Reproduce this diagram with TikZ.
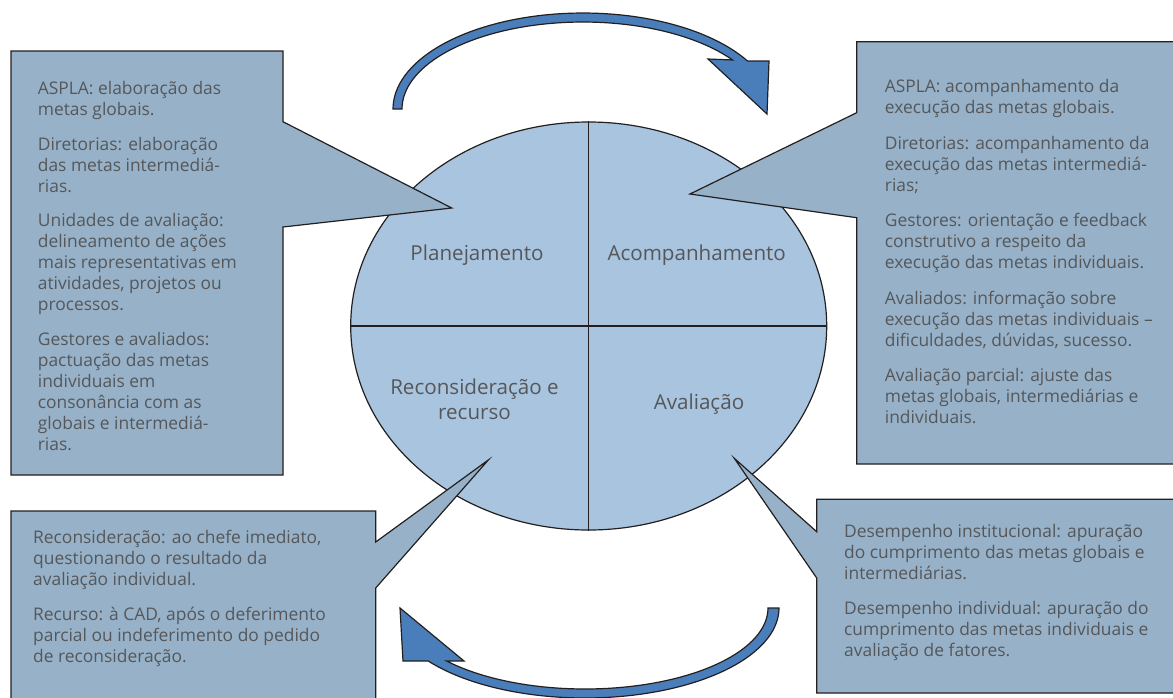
\documentclass[tikz,border=0pt]{standalone}
\usepackage{fontspec}
\setmainfont{Open Sans}
\usetikzlibrary{shapes.geometric,calc,positioning}
\definecolor{cyclefill}{RGB}{169,196,222}
\definecolor{calloutfill}{RGB}{151,178,200}
\definecolor{arrowfill}{RGB}{74,126,187}
\definecolor{linegray}{RGB}{35,31,32}
\definecolor{textgray}{RGB}{85,87,90}

\begin{document}
\begin{tikzpicture}[x=1pt,y=-1pt]

\tikzstyle{phase} = [font=\fontsize{20.6}{25}\selectfont, text=textgray, align=center]
\tikzstyle{box} = [inner sep=0, outer sep=0, anchor=north west]
\tikzstyle{callout} = [draw=linegray, fill=calloutfill, line width=1.2pt]
\tikzstyle{info} = [font=\fontsize{17.4}{21}\selectfont, text=textgray, align=left, inner sep=0]
\tikzstyle{turn} = [draw=linegray, fill=arrowfill, line width=1.2pt]

\useasboundingbox (0,0) rectangle (1173,697);
\clip (0,0) rectangle (1173,697);

% =========================
% placeholders for the four boxes
% =========================
\node[box, minimum width=272pt, minimum height=424pt] (planBox) at (11,51) {};
\node[box, minimum width=330pt, minimum height=422.3pt] (acompBox) at (856.7,41.7) {};
\node[box, minimum width=364.7pt, minimum height=200pt] (reconBox) at (11,511) {};
\node[box, minimum width=370pt, minimum height=193.7pt] (avalBox) at (816.7,499.3) {};

\coordinate (planTip) at (451.7,208);
\coordinate (acompTip) at (690,194);
\coordinate (reconTip) at (488.3,460);
\coordinate (avalTip) at (734.3,458.3);

% =========================
% round arrows
% =========================
\draw[turn] plot[domain=180:30,samples=60] ({583+190*cos(\x)},{109-96*sin(\x)})
  -- (769,61) -- (767,114) -- (708,59)
  -- plot[domain=34.3:180,samples=60] ({583+181*cos(\x)},{109-87*sin(\x)}) -- cycle;

\draw[turn] plot[domain=0:143.9,samples=60] ({585+194*cos(\x)},{608+90*sin(\x)})
  -- (403,661) -- (400,608) -- (464,661)
  -- plot[domain=139.1:0,samples=60] ({585+183*cos(\x)},{608+81*sin(\x)}) -- cycle;

% =========================
% the cycle
% =========================
\node[ellipse, draw=linegray, fill=cyclefill, line width=1.2pt, inner sep=0,
  minimum width=476pt, minimum height=408pt] (cycle) at (588.7,326) {};
\draw[linegray, line width=1.2pt] (cycle.north) -- (cycle.south);
\draw[linegray, line width=1.2pt] (cycle.west) -- (cycle.east);

\node[phase] (plan) at (477,255) {Planejamento};
\node[phase] (acomp) at (696.7,255) {Acompanhamento};
\node[phase] (recon) at (474.5,399) {Reconsideração e\\recurso};
\node[phase] (aval) at (699,404) {Avaliação};

% =========================
% callouts
% =========================
\draw[callout] (planBox.north west) -- (planBox.north east)
  -- ($(planBox.north east)+(0,70.7)$) -- (planTip) -- ($(planBox.north east)+(0,176)$)
  -- (planBox.south east) -- (planBox.south west) -- cycle;
\draw[callout] (acompBox.north east) -- (acompBox.north west)
  -- ($(acompBox.north west)+(0,71)$) -- (acompTip) -- ($(acompBox.north west)+(0,176)$)
  -- (acompBox.south west) -- (acompBox.south east) -- cycle;
\draw[callout] (reconBox.north west) -- (reconBox.north east)
  -- ($(reconBox.north east)+(0,31)$) -- (reconTip) -- ($(reconBox.north east)+(0,77)$)
  -- (reconBox.south east) -- (reconBox.south west) -- cycle;
\draw[callout] (avalBox.north east) -- (avalBox.north west)
  -- ($(avalBox.north west)+(0,32.4)$) -- (avalTip) -- ($(avalBox.north west)+(0,78.7)$)
  -- (avalBox.south west) -- (avalBox.south east) -- cycle;

\node[info, below right=30.1pt and 26.7pt of planBox.north west] (planText) {%
ASPLA: elaboração das\\ metas globais.\\[13.5pt]
Diretorias: elaboração\\ das metas intermediá-\\ rias.\\[13.5pt]
Unidades de avaliação:\\ delineamento de ações\\ mais representativas em\\ atividades, projetos ou\\ processos.\\[13.5pt]
Gestores e avaliados:\\ pactuação das metas\\ individuais em\\ consonância com as\\ globais e intermediá-\\ rias.};

\node[info, below right=37.4pt and 28pt of acompBox.north west] (acompText) {%
ASPLA: acompanhamento da\\ execução das metas globais.\\[14.5pt]
Diretorias: acompanhamento da\\ execução das metas intermediá-\\ rias;\\[14.5pt]
Gestores: orientação e feedback\\ construtivo a respeito da\\ execução das metas individuais.\\[14.5pt]
Avaliados: informação sobre\\ execução das metas individuais --\\ dificuldades, dúvidas, sucesso.\\[14.5pt]
Avaliação parcial: ajuste das\\ metas globais, intermediárias e\\ individuais.};

\node[info, below right=19.1pt and 22pt of reconBox.north west] (reconText) {%
Reconsideração: ao chefe imediato,\\ questionando o resultado da\\ avaliação individual.\\[14pt]
Recurso: à CAD, após o deferimento\\ parcial ou indeferimento do pedido\\ de reconsideração.};

\node[info, below right=24.8pt and 27.3pt of avalBox.north west] (avalText) {%
Desempenho institucional: apuração\\ do cumprimento das metas globais e\\ intermediárias.\\[14pt]
Desempenho individual: apuração do\\ cumprimento das metas individuais e\\ avaliação de fatores.};

\end{tikzpicture}
\end{document}
